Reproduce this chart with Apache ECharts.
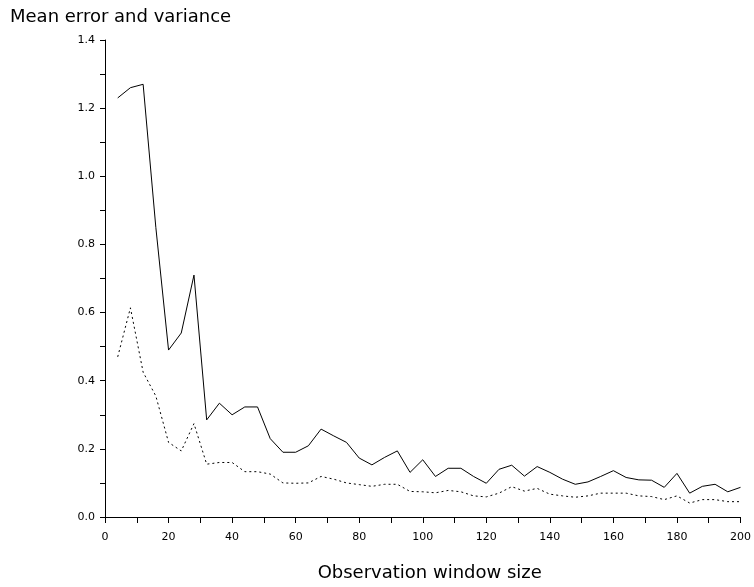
<!DOCTYPE html>
<html><head><meta charset="utf-8">
<script src="https://cdn.jsdelivr.net/npm/echarts@6/dist/echarts.min.js"></script>
<style>html,body{margin:0;padding:0;background:#fff}#c{width:754px;height:587px}</style>
</head><body><div id="c"></div>
<script>
const windowSizes = [4,8,12,16,20,24,28,32,36,40,44,48,52,56,60,64,68,72,76,80,84,88,92,96,100,104,108,112,116,120,124,128,132,136,140,144,148,152,156,160,164,168,172,176,180,184,188,192,196,200];
const meanError = [1.23,1.26,1.27,0.85,0.49,0.54,0.71,0.285,0.334,0.30,0.323,0.323,0.23,0.19,0.19,0.209,0.258,0.238,0.219,0.173,0.153,0.175,0.194,0.131,0.168,0.119,0.143,0.143,0.119,0.099,0.14,0.152,0.12,0.148,0.131,0.111,0.096,0.103,0.119,0.136,0.116,0.109,0.108,0.087,0.128,0.07,0.09,0.096,0.074,0.087];
const variance = [0.47,0.614,0.425,0.355,0.219,0.194,0.274,0.155,0.16,0.16,0.133,0.133,0.126,0.10,0.099,0.10,0.119,0.111,0.10,0.095,0.09,0.096,0.096,0.075,0.074,0.071,0.078,0.074,0.062,0.059,0.07,0.089,0.076,0.084,0.067,0.062,0.058,0.062,0.07,0.07,0.07,0.062,0.06,0.051,0.062,0.041,0.051,0.051,0.045,0.045];
const yTitle = 'Mean error and variance';
const xTitle = 'Observation window size';

const pair = (ys) => windowSizes.map((x, i) => [x, ys[i]]);
const chart = echarts.init(document.getElementById('c'));
const font = 'DejaVu Sans, sans-serif';
chart.setOption({
  animation: false,
  backgroundColor: '#fff',
  title: { text: yTitle, left: 5, top: 3, textStyle: { fontFamily: font, fontSize: 18, fontWeight: 'normal', color: '#000' } },
  grid: { left: 105, right: 13, top: 40, bottom: 69, containLabel: false },
  xAxis: {
    type: 'value', min: 0, max: 200, interval: 10,
    name: xTitle, nameLocation: 'middle', nameGap: 47,
    nameTextStyle: { fontFamily: font, fontSize: 18, color: '#000', padding: [0, 0, 0, 14] },
    axisLine: { show: true, lineStyle: { color: '#000', width: 1 } },
    axisTick: { show: true, length: 6, lineStyle: { color: '#000' } },
    axisLabel: { fontFamily: font, fontSize: 11, color: '#000', margin: 15,
      formatter: v => (Math.round(v) % 20 === 0 ? String(Math.round(v)) : '') },
    splitLine: { show: false }
  },
  yAxis: {
    type: 'value', min: 0, max: 1.4, interval: 0.1,
    axisLine: { show: true, lineStyle: { color: '#000', width: 1 } },
    axisTick: { show: true, length: 5, lineStyle: { color: '#000' } },
    axisLabel: { fontFamily: font, fontSize: 11, color: '#000', margin: 10,
      formatter: v => (Math.round(v * 10) % 2 === 0 ? v.toFixed(1) : '') },
    splitLine: { show: false }
  },
  series: [
    { type: 'line', data: pair(meanError), symbol: 'none', lineStyle: { color: '#000', width: 1 } },
    { type: 'line', data: pair(variance), symbol: 'none', lineStyle: { color: '#000', width: 1, type: [2, 3] } }
  ]
});
</script></body></html>
